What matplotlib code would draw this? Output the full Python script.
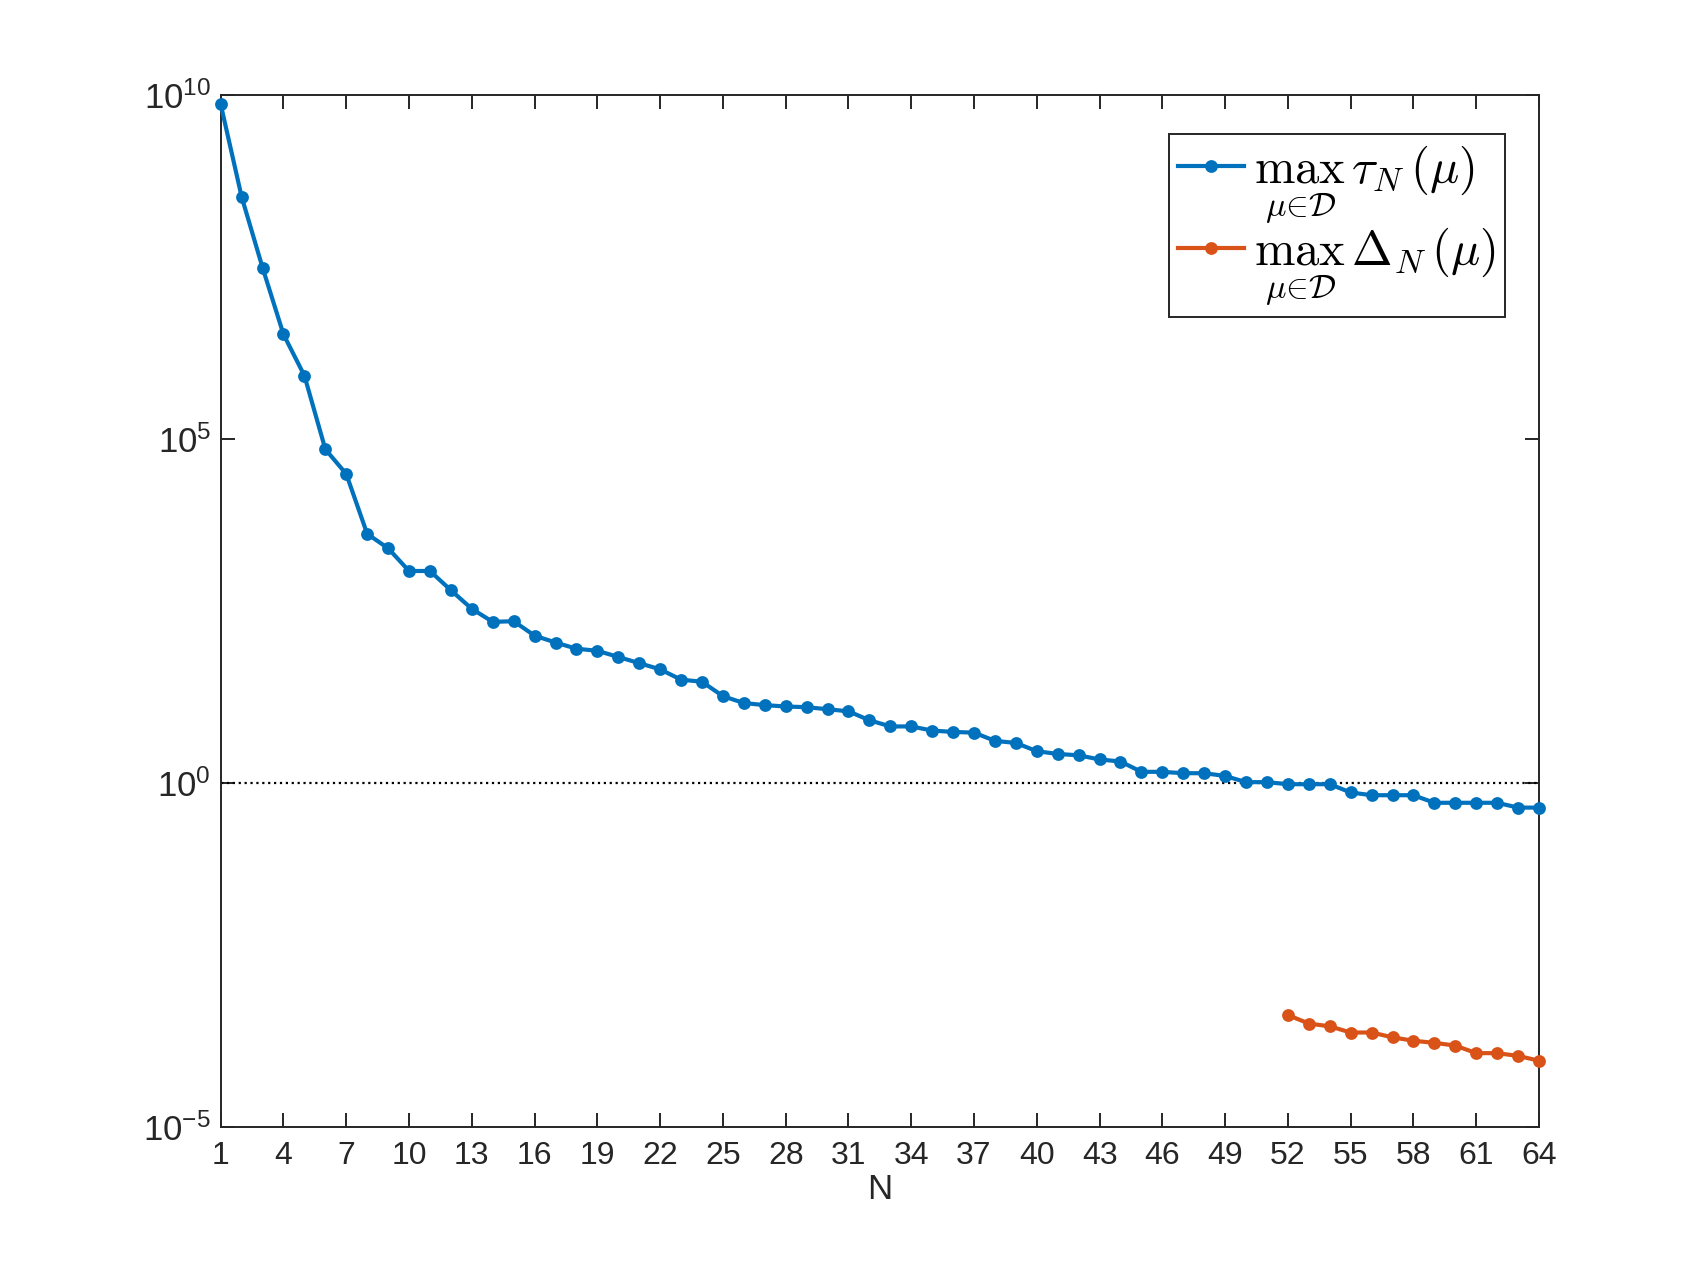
import numpy as np
import matplotlib
matplotlib.use("Agg")
import matplotlib.pyplot as plt
from matplotlib.font_manager import FontProperties
from matplotlib.ticker import FixedLocator, NullLocator

plt.rcParams['font.family'] = ['Liberation Sans', 'DejaVu Sans']
plt.rcParams['mathtext.fontset'] = 'custom'
plt.rcParams['mathtext.rm'] = 'Liberation Sans'
plt.rcParams['mathtext.it'] = 'Liberation Sans:italic'
plt.rcParams['mathtext.bf'] = 'Liberation Sans:bold'
plt.rcParams['axes.unicode_minus'] = False

N_tau = np.arange(1, 65)
log_tau = [9.865, 8.52, 7.49, 6.52, 5.92, 4.85, 4.49, 3.62, 3.41, 3.08,
           3.08, 2.80, 2.53, 2.34, 2.35, 2.14, 2.04, 1.95, 1.92, 1.83,
           1.74, 1.65, 1.50, 1.47, 1.26, 1.16, 1.13, 1.11, 1.10, 1.07,
           1.04, 0.91, 0.82, 0.82, 0.76, 0.74, 0.73, 0.61, 0.58, 0.46,
           0.42, 0.40, 0.34, 0.31, 0.16, 0.16, 0.14, 0.14, 0.10, 0.01,
           0.01, -0.02, -0.02, -0.02, -0.14, -0.18, -0.18, -0.18, -0.29, -0.29,
           -0.29, -0.29, -0.36, -0.36]
N_delta = np.arange(52, 65)
log_delta = [-3.376, -3.50, -3.54, -3.63, -3.63, -3.70, -3.75, -3.78, -3.82,
             -3.93, -3.93, -3.97, -4.04]
xticks = list(range(1, 65, 3))
yticks = [1e-5, 1e0, 1e5, 1e10]
ytick_labels = ['$10^{-5}$', '$10^{0}$', '$10^{5}$', '$10^{10}$']

tau = 10.0 ** np.array(log_tau)
delta = 10.0 ** np.array(log_delta)

fig = plt.figure(figsize=(1703 / 200, 1267 / 200), dpi=200)
ax = fig.add_axes([0.1296, 0.1107, 0.9037 - 0.1296, 0.925 - 0.1107])

blue = '#0072BD'
orange = '#D95319'
ax.plot(N_tau, tau, '-o', color=blue, lw=1.5, ms=3.6, clip_on=False,
        label=r'$\max_{\mu\in\mathcal{D}}\,\tau_N(\mu)$', zorder=3)
ax.plot(N_delta, delta, '-o', color=orange, lw=1.5, ms=3.6, clip_on=False,
        label=r'$\max_{\mu\in\mathcal{D}}\,\Delta_N(\mu)$', zorder=3)
ax.axhline(1.0, color='black', ls=':', lw=0.8, zorder=2)

ax.set_yscale('log')
ax.set_xlim(1, 64)
ax.set_ylim(1e-5, 1e10)
ax.xaxis.set_major_locator(FixedLocator(xticks))
ax.set_yticks(yticks)
ax.set_yticklabels(ytick_labels)
ax.yaxis.set_minor_locator(NullLocator())
ax.tick_params(which='both', direction='in', top=True, right=True,
               length=5, width=0.7, labelsize=11.5, colors='#262626')
ax.tick_params(axis='y', labelsize=12.5)
ax.tick_params(axis='x', pad=5)
for s in ax.spines.values():
    s.set_linewidth(0.7)
    s.set_color('#262626')
ax.set_xlabel('N', fontsize=12.5, labelpad=1, color='#262626')

leg = ax.legend(loc='upper right', bbox_to_anchor=(0.9745, 0.962),
                prop=FontProperties(size=17.5, math_fontfamily='cm'),
                fancybox=False, edgecolor='#262626', framealpha=1,
                handlelength=1.35, handletextpad=0.2, borderpad=0.2,
                labelspacing=0.0, borderaxespad=0)
leg.get_frame().set_linewidth(0.7)

fig.savefig('out.png', dpi=200, facecolor='white')
